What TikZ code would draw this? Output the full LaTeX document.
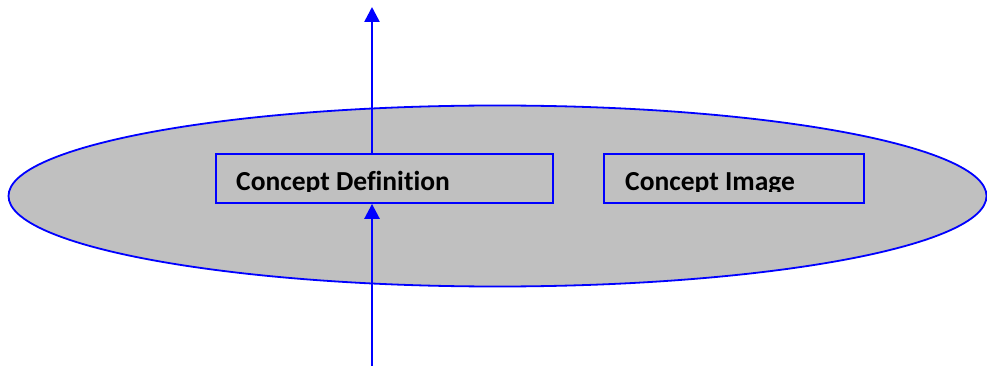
\documentclass[tikz,border=0pt]{standalone}
\usepackage{fontspec}
\setmainfont[Ligatures=NoCommon]{Carlito}
\usetikzlibrary{arrows.meta}
\definecolor{fillgray}{HTML}{C0C0C0}
\definecolor{lineblue}{HTML}{0000FF}
\begin{document}
\begin{tikzpicture}[x=1pt,y=-1pt,
  boxstyle/.style={draw=lineblue,line width=1.8pt,fill=fillgray,rectangle,inner sep=0pt},
  labelstyle/.style={font=\fontsize{27.5}{32}\selectfont\bfseries,inner sep=0pt,anchor=base west},
  arrowstyle/.style={draw=lineblue,line width=2.6pt,-{Triangle[length=15pt,width=15pt]}}]
\useasboundingbox (0,0) rectangle (987,366);
\fill[white] (0,0) rectangle (987,366);
\draw[draw=lineblue,line width=1.8pt,fill=fillgray] (497.5,196) ellipse [x radius=489,y radius=90.5];
\node[boxstyle,minimum width=337pt,minimum height=49pt] (defbox) at (384.5,178.5) {};
\node[boxstyle,minimum width=260pt,minimum height=49pt] (imgbox) at (734,178.5) {};
\begin{scope}
\clip (0,0) rectangle (987,192);
\node[labelstyle] (deftext) at (236,190.5) {Concept Definition};
\node[labelstyle] (imgtext) at (625,190.5) {Concept Image};
\end{scope}
\coordinate (toptip) at (372,7);
\coordinate (botstart) at (372,366);
\draw[arrowstyle] (toptip |- defbox.north) -- (toptip);
\draw[arrowstyle] (botstart) -- (botstart |- defbox.south);
\end{tikzpicture}
\end{document}
